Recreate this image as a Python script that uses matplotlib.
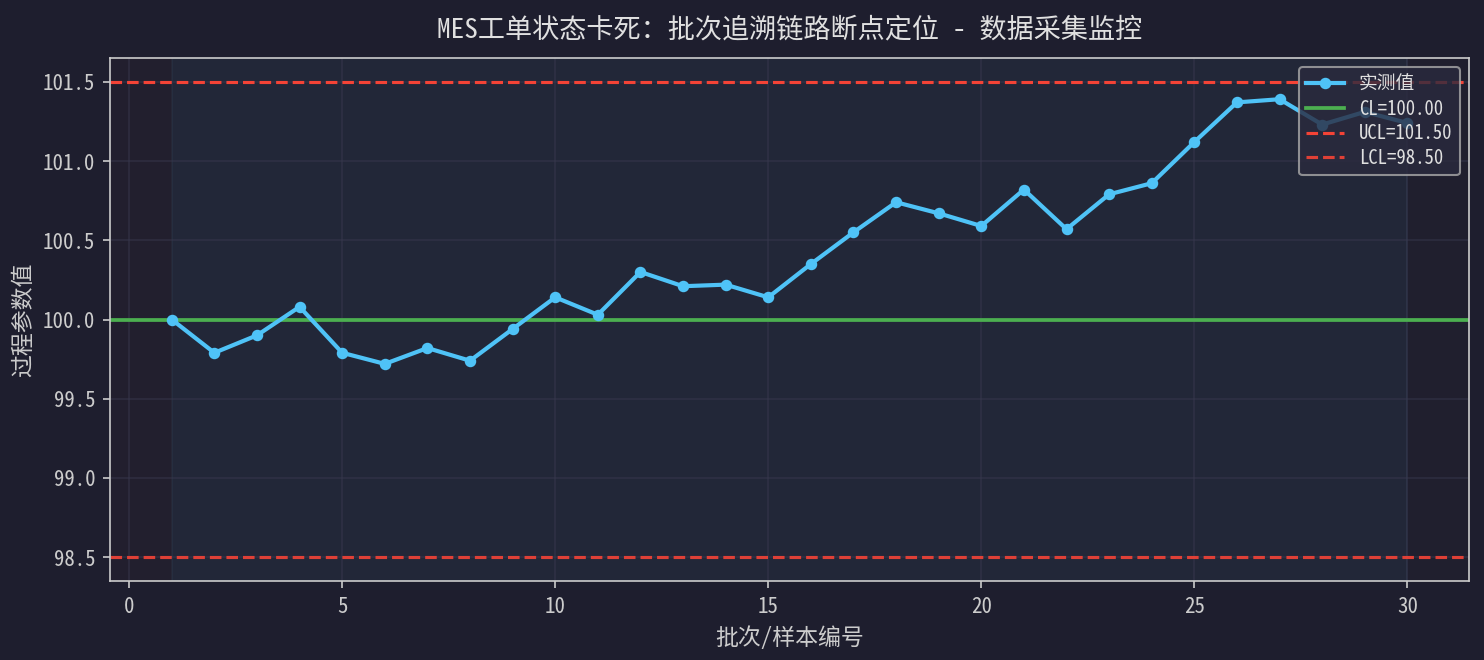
import matplotlib
matplotlib.use('Agg')
import matplotlib.pyplot as plt
import numpy as np

plt.rcParams['font.family'] = ['Noto Sans Mono CJK SC', 'Noto Sans CJK SC', 'DejaVu Sans']
plt.rcParams['axes.unicode_minus'] = False

batch = list(range(1, 31))
values = [100.00, 99.79, 99.90, 100.08, 99.79, 99.72, 99.82, 99.74, 99.94, 100.14,
          100.03, 100.30, 100.21, 100.22, 100.14, 100.35, 100.55, 100.74, 100.67, 100.59,
          100.82, 100.57, 100.79, 100.86, 101.12, 101.37, 101.39, 101.23, 101.31, 101.24]
cl = 100.0
ucl = 101.5
lcl = 98.5

bg = '#1e1e2e'
fg = '#cccccc'

fig = plt.figure(figsize=(1484 / 150, 660 / 150), dpi=150, facecolor=bg)
ax = fig.add_axes([0.0741, 0.1197, 0.9159, 0.7924])
ax.set_facecolor('#201f2e')

ax.plot(batch, values, color='#4fc3f7', linewidth=2, marker='o', markersize=4.5, label='实测值', zorder=3)
ax.axhline(cl, color='#4caf50', linewidth=1.8, label=f'CL={cl:.2f}', zorder=2)
ax.axhline(ucl, color='#f44336', linewidth=1.5, linestyle='--', label=f'UCL={ucl:.2f}', zorder=2)
ax.axhline(lcl, color='#f44336', linewidth=1.5, linestyle='--', alpha=0.9, label=f'LCL={lcl:.2f}', zorder=2)

xlo, xhi = ax.get_xlim()
ax.axvspan(batch[0], batch[-1], color='#4fc3f7', alpha=0.05, zorder=0)
ax.axvspan(xlo, batch[0], color='#f44336', alpha=0.01, zorder=0)
ax.set_xlim(xlo, xhi)

ax.grid(True, color='#3a3a50', alpha=0.5, linewidth=0.8)
ax.set_axisbelow(True)

ax.set_title('MES工单状态卡死：批次追溯链路断点定位 - 数据采集监控', color='#e0e0e0', fontsize=13, pad=10)
ax.set_xlabel('批次/样本编号', color=fg, fontsize=11)
ax.set_ylabel('过程参数值', color=fg, fontsize=11)
ax.tick_params(colors=fg, labelsize=10)
for s in ax.spines.values():
    s.set_color(fg)

leg = ax.legend(loc='upper right', fontsize=9, facecolor='#2a2a3e', edgecolor='#aaaaaa',
                framealpha=0.8, labelspacing=0.3, borderpad=0.4)
for t in leg.get_texts():
    t.set_color('#e0e0e0')

fig.savefig('out.png', dpi=150, facecolor=bg)
